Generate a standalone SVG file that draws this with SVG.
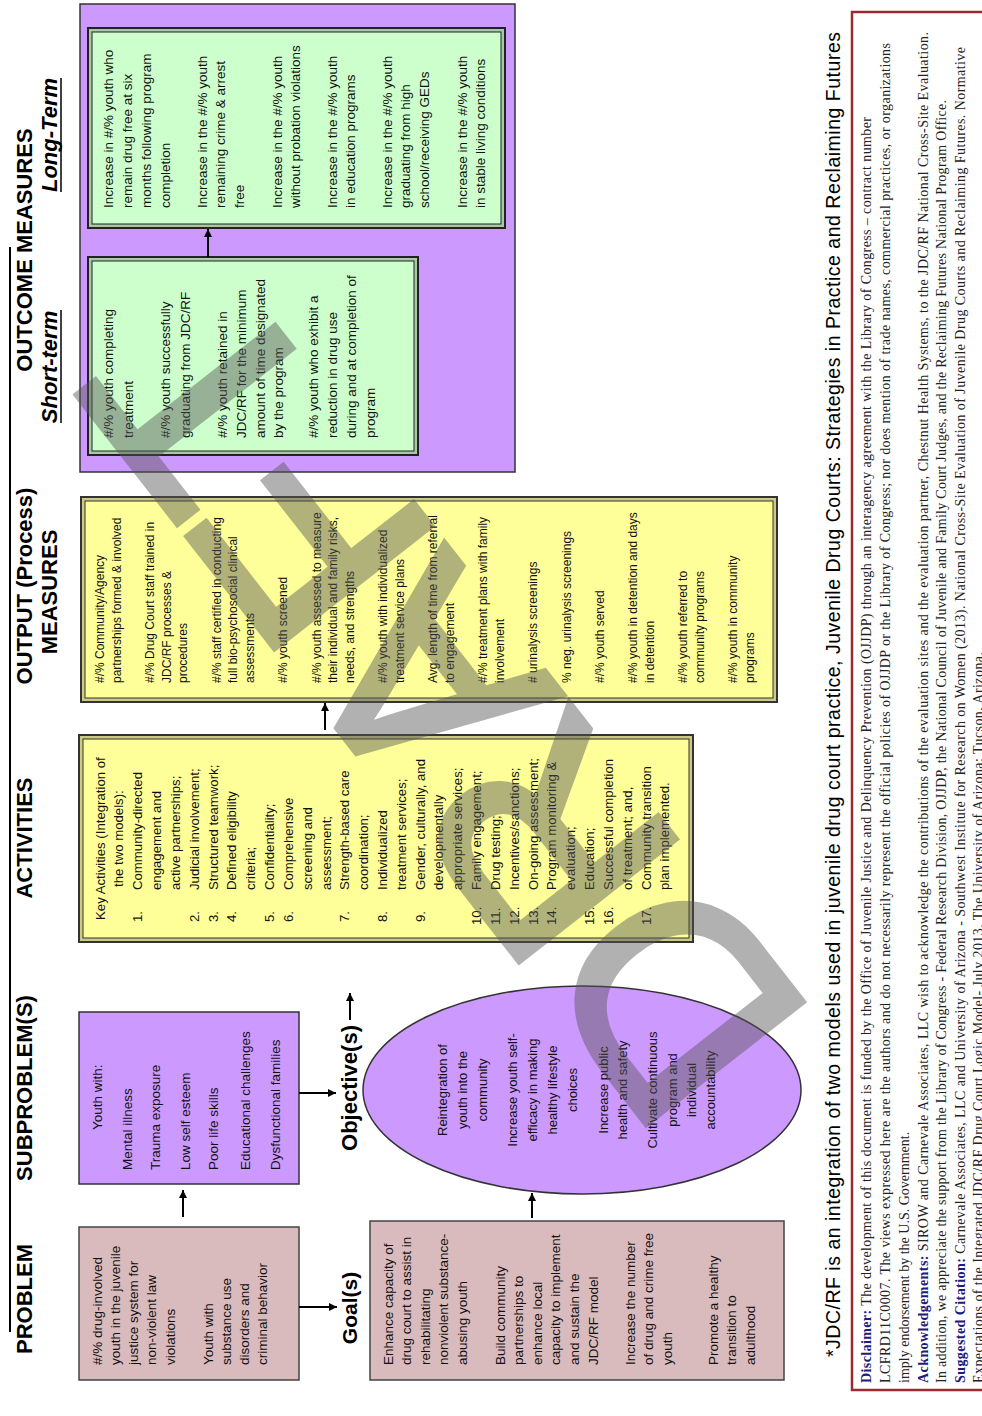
<svg xmlns="http://www.w3.org/2000/svg" width="982" height="1416" viewBox="0 0 982 1416">
<style>
.h{font-family:'Liberation Sans',Arial,sans-serif;font-weight:bold;font-size:22px;fill:#000}
.hi{font-family:'Liberation Sans',Arial,sans-serif;font-weight:bold;font-style:italic;font-size:22px;fill:#000}
.t{font-family:'Liberation Sans',Arial,sans-serif;font-size:13.5px;fill:#111}
.ta{font-family:'Liberation Sans',Arial,sans-serif;font-size:13.2px;fill:#111}
.to{font-family:'Liberation Sans',Arial,sans-serif;font-size:12px;fill:#111}
.te{font-family:'Liberation Sans',Arial,sans-serif;font-size:13px;fill:#111;text-anchor:middle}
.c{text-anchor:middle}
.pink{fill:#d9babd;stroke:#444;stroke-width:1.5}
.purp{fill:#cc99ff;stroke:#333;stroke-width:1.5}
.yb{fill:#cdcb82;stroke:#333;stroke-width:2}
.yi{fill:#ffff99;stroke:#333;stroke-width:1}
.gb{fill:#a8c8a8;stroke:#222;stroke-width:2}
.gi{fill:#ccffcc;stroke:#222;stroke-width:1}
.arr{stroke:#000;stroke-width:2;fill:none;marker-end:url(#ah)}
.fn{font-family:'Liberation Serif','Times New Roman',serif;font-size:14px;fill:#222}
.lab{font-weight:bold;fill:#1c1c7c}
.title{font-family:'Liberation Sans',Arial,sans-serif;font-size:19.5px;fill:#000}
</style>
<defs>
<marker id="ah" viewBox="0 0 10 10" refX="10" refY="5" markerWidth="9" markerHeight="8" markerUnits="userSpaceOnUse" orient="auto">
<path d="M0,0 L10,5 L0,10 z" fill="#000"/>
</marker>
</defs>
<g transform="matrix(0,-1,1,0,0,1416)">
<g id="headers">
<line x1="84" y1="10" x2="1169" y2="10" stroke="#000" stroke-width="2"/>
<text class="h c" x="117" y="32">PROBLEM</text>
<text class="h c" x="328" y="32">SUBPROBLEM(S)</text>
<text class="h c" x="578" y="32">ACTIVITIES</text>
<text class="h c" x="830" y="32">OUTPUT (Process)</text>
<text class="h c" x="824" y="57">MEASURES</text>
<text class="h c" x="1166" y="32">OUTCOME MEASURES</text>
<text class="hi c" x="1049" y="57">Short-term</text>
<line x1="993" y1="61" x2="1106" y2="61" stroke="#000" stroke-width="1.5"/>
<text class="hi c" x="1281" y="57">Long-Term</text>
<line x1="1224" y1="61" x2="1338" y2="61" stroke="#000" stroke-width="1.5"/>
<text class="h c" x="108" y="357" style="font-size:21px">Goal(s)</text>
<text class="h c" x="328" y="357">Objective(s)</text>
</g>
<g id="problem">
<rect class="pink" x="36" y="79" width="153" height="220"/>
<text class="t" x="51" y="101.5">#/% drug-involved</text>
<text class="t" x="51" y="119.8">youth in the juvenile</text>
<text class="t" x="51" y="138.1">justice system for</text>
<text class="t" x="51" y="156.4">non-violent law</text>
<text class="t" x="51" y="174.7">violations</text>
<text class="t" x="51" y="212.5">Youth with</text>
<text class="t" x="51" y="230.8">substance use</text>
<text class="t" x="51" y="249.1">disorders and</text>
<text class="t" x="51" y="267.4">criminal behavior</text>
</g>
<g id="subproblem">
<rect class="purp" x="232" y="79" width="172" height="220"/>
<text class="t" x="286" y="101.5">Youth with:</text>
<text class="t" x="246" y="131.5">Mental illness</text>
<text class="t" x="246" y="160">Trauma exposure</text>
<text class="t" x="246" y="189.5">Low self esteem</text>
<text class="t" x="246" y="218">Poor life skills</text>
<text class="t" x="246" y="249.5">Educational challenges</text>
<text class="t" x="246" y="279.5">Dysfunctional families</text>
</g>
<g id="goals">
<rect class="pink" x="36" y="370" width="159" height="414"/>
<text class="t" x="51" y="392.5">Enhance capacity of</text>
<text class="t" x="51" y="411.1">drug court to assist in</text>
<text class="t" x="51" y="429.7">rehabilitating</text>
<text class="t" x="51" y="448.3">nonviolent substance-</text>
<text class="t" x="51" y="466.9">abusing youth</text>
<text class="t" x="51" y="504.5">Build community</text>
<text class="t" x="51" y="523.1">partnerships to</text>
<text class="t" x="51" y="541.7">enhance local</text>
<text class="t" x="51" y="560.3">capacity to implement</text>
<text class="t" x="51" y="578.9">and sustain the</text>
<text class="t" x="51" y="597.5">JDC/RF model</text>
<text class="t" x="51" y="634.5">Increase the number</text>
<text class="t" x="51" y="653.1">of drug and crime free</text>
<text class="t" x="51" y="671.7">youth</text>
<text class="t" x="51" y="717.5">Promote a healthy</text>
<text class="t" x="51" y="736.1">transition to</text>
<text class="t" x="51" y="754.7">adulthood</text>
</g>
<g id="objectives">
<ellipse class="purp" cx="326" cy="582" rx="104" ry="219"/>
<text class="te" x="326" y="446.5">Reintegration of</text>
<text class="te" x="326" y="467">youth into the</text>
<text class="te" x="326" y="486.5">community</text>
<text class="te" x="326" y="516.5">Increase youth self-</text>
<text class="te" x="326" y="536.5">efficacy in making</text>
<text class="te" x="326" y="556.5">healthy lifestyle</text>
<text class="te" x="326" y="576.5">choices</text>
<text class="te" x="326" y="607.5">Increase public</text>
<text class="te" x="326" y="626.5">health and safety</text>
<text class="te" x="326" y="656.5">Cultivate continuous</text>
<text class="te" x="326" y="677">program and</text>
<text class="te" x="326" y="696">individual</text>
<text class="te" x="326" y="714.5">accountability</text>
</g>
<g id="activities">
<rect class="yb" x="474" y="79" width="207" height="614"/>
<rect class="yi" x="478" y="83" width="199" height="606"/>
<text class="ta" x="496" y="104.5">Key Activities (Integration of</text>
<text class="ta" x="529" y="123.3">the two models):</text>
<text class="ta" x="494" y="142.2">1.</text><text class="ta" x="526" y="142.2">Community-directed</text>
<text class="ta" x="526" y="161">engagement and</text>
<text class="ta" x="526" y="179.8">active partnerships;</text>
<text class="ta" x="494" y="198.7">2.</text><text class="ta" x="526" y="198.7">Judicial involvement;</text>
<text class="ta" x="494" y="217.5">3.</text><text class="ta" x="526" y="217.5">Structured teamwork;</text>
<text class="ta" x="494" y="236.3">4.</text><text class="ta" x="526" y="236.3">Defined eligibility</text>
<text class="ta" x="526" y="255.1">criteria;</text>
<text class="ta" x="494" y="274">5.</text><text class="ta" x="526" y="274">Confidentiality;</text>
<text class="ta" x="494" y="292.8">6.</text><text class="ta" x="526" y="292.8">Comprehensive</text>
<text class="ta" x="526" y="311.6">screening and</text>
<text class="ta" x="526" y="330.5">assessment;</text>
<text class="ta" x="494" y="349.3">7.</text><text class="ta" x="526" y="349.3">Strength-based care</text>
<text class="ta" x="526" y="368.1">coordination;</text>
<text class="ta" x="494" y="387">8.</text><text class="ta" x="526" y="387">Individualized</text>
<text class="ta" x="526" y="405.8">treatment services;</text>
<text class="ta" x="494" y="424.6">9.</text><text class="ta" x="526" y="424.6">Gender, culturally, and</text>
<text class="ta" x="526" y="443.4">developmentally</text>
<text class="ta" x="526" y="462.3">appropriate services;</text>
<text class="ta" x="491" y="481.1">10.</text><text class="ta" x="526" y="481.1">Family engagement;</text>
<text class="ta" x="491" y="499.9">11.</text><text class="ta" x="526" y="499.9">Drug testing;</text>
<text class="ta" x="491" y="518.8">12.</text><text class="ta" x="526" y="518.8">Incentives/sanctions;</text>
<text class="ta" x="491" y="537.6">13.</text><text class="ta" x="526" y="537.6">On-going assessment;</text>
<text class="ta" x="491" y="556.4">14.</text><text class="ta" x="526" y="556.4">Program monitoring &amp;</text>
<text class="ta" x="526" y="575.2">evaluation;</text>
<text class="ta" x="491" y="594.1">15.</text><text class="ta" x="526" y="594.1">Education;</text>
<text class="ta" x="491" y="612.9">16.</text><text class="ta" x="526" y="612.9">Successful completion</text>
<text class="ta" x="526" y="631.7">of treatment; and,</text>
<text class="ta" x="491" y="650.6">17.</text><text class="ta" x="526" y="650.6">Community transition</text>
<text class="ta" x="526" y="669.4">plan implemented.</text>
</g>
<g id="output">
<rect class="yb" x="714" y="81" width="205" height="696"/>
<rect class="yi" x="718" y="85" width="197" height="688"/>
<text class="to" x="733" y="104">#/% Community/Agency</text>
<text class="to" x="733" y="120.7">partnerships formed &amp; involved</text>
<text class="to" x="733" y="154">#/% Drug Court staff trained in</text>
<text class="to" x="733" y="170.7">JDC/RF processes &amp;</text>
<text class="to" x="733" y="187.4">procedures</text>
<text class="to" x="733" y="220.7">#/% staff certified in conducting</text>
<text class="to" x="733" y="237.4">full bio-psychosocial clinical</text>
<text class="to" x="733" y="254">assessments</text>
<text class="to" x="733" y="287.4">#/% youth screened</text>
<text class="to" x="733" y="320.7">#/% youth assessed to measure</text>
<text class="to" x="733" y="337.4">their individual and family risks,</text>
<text class="to" x="733" y="354">needs, and strengths</text>
<text class="to" x="733" y="387.4">#/% youth with individualized</text>
<text class="to" x="733" y="404">treatment service plans</text>
<text class="to" x="733" y="437.4">Avg. length of time from referral</text>
<text class="to" x="733" y="454">to engagement</text>
<text class="to" x="733" y="487.4">#/% treatment plans with family</text>
<text class="to" x="733" y="504">involvement</text>
<text class="to" x="733" y="537.4"># urinalysis screenings</text>
<text class="to" x="733" y="570.7">% neg. urinalysis screenings</text>
<text class="to" x="733" y="604">#/% youth served</text>
<text class="to" x="733" y="637.4">#/% youth in detention and days</text>
<text class="to" x="733" y="654">in detention</text>
<text class="to" x="733" y="687.4">#/% youth referred to</text>
<text class="to" x="733" y="704">community programs</text>
<text class="to" x="733" y="737.4">#/% youth in community</text>
<text class="to" x="733" y="754">programs</text>
</g>
<g id="outcomes">
<rect class="purp" x="944" y="80" width="468" height="435"/>
</g>
<g id="short-term">
<rect class="gb" x="961" y="88" width="198" height="330"/>
<rect class="gi" x="965" y="92" width="190" height="322"/>
<text class="t" x="978" y="112.5">#/% youth completing</text>
<text class="t" x="978" y="132.5">treatment</text>
<text class="t" x="978" y="169.5">#/% youth successfully</text>
<text class="t" x="978" y="189.5">graduating from JDC/RF</text>
<text class="t" x="978" y="226.5">#/% youth retained in</text>
<text class="t" x="978" y="245.5">JDC/RF for the minimum</text>
<text class="t" x="978" y="264.5">amount of time designated</text>
<text class="t" x="978" y="283">by the program</text>
<text class="t" x="978" y="318">#/% youth who exhibit a</text>
<text class="t" x="978" y="337">reduction in drug use</text>
<text class="t" x="978" y="356">during and at completion of</text>
<text class="t" x="978" y="375">program</text>
</g>
<g id="long-term">
<rect class="gb" x="1188" y="88" width="200" height="417"/>
<rect class="gi" x="1192" y="92" width="192" height="409"/>
<text class="t" x="1208" y="112.5">Increase in #/% youth who</text>
<text class="t" x="1208" y="131.5">remain drug free at six</text>
<text class="t" x="1208" y="150.5">months following program</text>
<text class="t" x="1208" y="169.5">completion</text>
<text class="t" x="1208" y="206.5">Increase in the #/% youth</text>
<text class="t" x="1208" y="225">remaining crime &amp; arrest</text>
<text class="t" x="1208" y="244">free</text>
<text class="t" x="1208" y="281.5">Increase in the #/% youth</text>
<text class="t" x="1208" y="300">without probation violations</text>
<text class="t" x="1208" y="336.5">Increase in the #/% youth</text>
<text class="t" x="1208" y="355">in education programs</text>
<text class="t" x="1208" y="391.5">Increase in the #/% youth</text>
<text class="t" x="1208" y="410">graduating from high</text>
<text class="t" x="1208" y="428.5">school/receiving GEDs</text>
<text class="t" x="1208" y="466.5">Increase in the #/% youth</text>
<text class="t" x="1208" y="485">in stable living conditions</text>
</g>
<g id="connectors">
<path class="arr" d="M199,183 H226"/>
<path class="arr" d="M109,299 V337"/>
<path class="arr" d="M323,299 V336"/>
<path class="arr" d="M198,532 H223"/>
<path class="arr" d="M396,350 H423"/>
<path class="arr" d="M686,325 H713"/>
<path class="arr" d="M1159,208 H1187"/>
</g>
<g id="footnote">
<text class="title" x="59" y="840" textLength="1325">*JDC/RF is an integration of two models used in juvenile drug court practice, Juvenile Drug Courts: Strategies in Practice and Reclaiming Futures</text>
<rect x="26" y="852" width="1378" height="140" fill="none" stroke="#9b2b2f" stroke-width="2.5"/>
<text class="fn" x="33" y="871" textLength="1266"><tspan class="lab">Disclaimer:</tspan> The development of this document is funded by the Office of Juvenile Justice and Delinquency Prevention (OJJDP) through an interagency agreement with the Library of Congress – contract number</text>
<text class="fn" x="33" y="890" textLength="1340">LCFRD11C0007. The views expressed here are the authors and do not necessarily represent the official policies of OJJDP or the Library of Congress; nor does mention of trade names, commercial practices, or organizations</text>
<text class="fn" x="33" y="909">imply endorsement by the U.S. Government.</text>
<text class="fn" x="33" y="928" textLength="1351"><tspan class="lab">Acknowledgements:</tspan> SIROW and Carnevale Associates, LLC wish to acknowledge the contributions of the evaluation sites and the evaluation partner, Chestnut Health Systems, to the JDC/RF National Cross-Site Evaluation.</text>
<text class="fn" x="33" y="946" textLength="1283">In addition, we appreciate the support from the Library of Congress - Federal Research Division, OJJDP, the National Council of Juvenile and Family Court Judges, and the Reclaiming Futures National Program Office.</text>
<text class="fn" x="33" y="965" textLength="1336"><tspan class="lab">Suggested Citation:</tspan> Carnevale Associates, LLC and University of Arizona - Southwest Institute for Research on Women (2013). National Cross-Site Evaluation of Juvenile Drug Courts and Reclaiming Futures. Normative</text>
<text class="fn" x="33" y="983" textLength="731">Expectations of the Integrated JDC/RF Drug Court Logic Model- July 2013. The University of Arizona: Tucson, Arizona.</text>
</g>
<g id="watermark">
<text x="0" y="0" transform="translate(396,816) rotate(-38)" font-family="'Liberation Sans',Arial,sans-serif" font-size="286" fill="#555" stroke="#555" stroke-width="8" opacity="0.45">DRAFT</text>
</g>
</g>
</svg>
